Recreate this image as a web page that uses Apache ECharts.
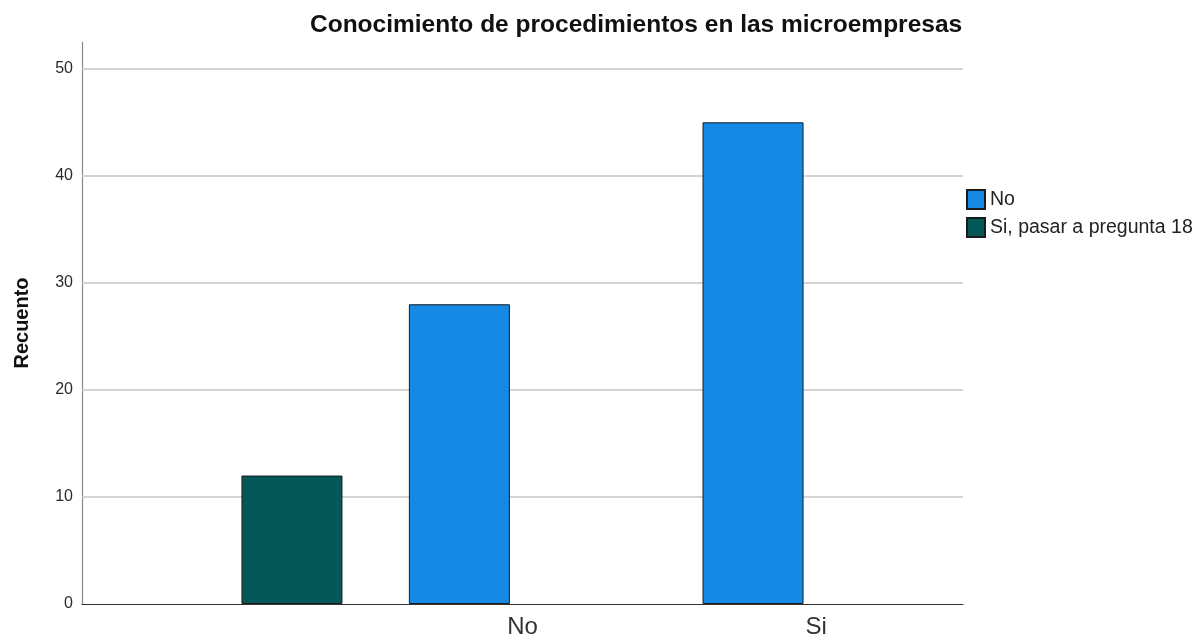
<!DOCTYPE html>
<html>
<head>
<meta charset="utf-8">
<script src="https://cdn.jsdelivr.net/npm/echarts@6/dist/echarts.min.js"></script>
<style>
  html, body { margin: 0; padding: 0; background: #ffffff; }
  #chart { width: 1201px; height: 639px; }
</style>
</head>
<body>
<div id="chart"></div>
<script>
// Categories of the answer (the first one has no label)
const categories = ['', 'No', 'Si'];
// Counts per cluster group
const noValues = [null, 28, 45];
const siValues = [12, null, null];
const seriesNames = ['No', 'Si, pasar a pregunta 18'];
// Value-axis gridlines
const gridValues = [10, 20, 30, 40, 50];

const FONT = '"Liberation Sans", Arial, sans-serif';

const chart = echarts.init(document.getElementById('chart'), null, { renderer: 'canvas' });

chart.setOption({
  backgroundColor: '#ffffff',
  animation: false,
  title: {
    text: 'Conocimiento de procedimientos en las microempresas',
    left: 305,
    top: 8,
    textStyle: { fontFamily: FONT, fontSize: 24.5, fontWeight: 'bold', color: '#111111' }
  },
  legend: {
    orient: 'vertical',
    left: 961,
    top: 184,
    itemWidth: 18,
    itemHeight: 19,
    itemGap: 7,
    icon: 'rect',
    textStyle: { fontFamily: FONT, fontSize: 19.5, color: '#222222' },
    data: seriesNames
  },
  grid: { left: 82, right: 238, top: 42, bottom: 35, containLabel: false },
  xAxis: {
    type: 'category',
    data: categories,
    axisLine: { lineStyle: { color: '#333333', width: 1.2 } },
    axisTick: { show: false },
    axisLabel: { fontFamily: FONT, fontSize: 24, color: '#333333', margin: 11 }
  },
  yAxis: {
    type: 'value',
    min: 0,
    max: 52.5,
    interval: 10,
    name: 'Recuento',
    nameLocation: 'middle',
    nameGap: 50,
    nameRotate: 90,
    nameTextStyle: { fontFamily: FONT, fontSize: 20, fontWeight: 'bold', color: '#111111' },
    axisLine: { show: true, lineStyle: { color: '#8a8a8a', width: 1.2 } },
    axisTick: { show: false },
    splitLine: { show: false },
    axisLabel: {
      fontFamily: FONT, fontSize: 16, color: '#2a2a2a', margin: 9,
      formatter: v => (v % 10 === 0 ? String(v) : '')
    }
  },
  series: [
    {
      name: seriesNames[0],
      type: 'bar',
      data: noValues,
      barWidth: 101,
      barGap: '25%',
      itemStyle: { color: '#1589e3', borderColor: '#1b1b1b', borderWidth: 1 },
      markLine: {
        silent: true,
        symbol: 'none',
        z: 1,
        label: { show: false },
        lineStyle: { color: '#c4c4c4', width: 1.5, type: 'solid' },
        data: gridValues.map(v => ({ yAxis: v }))
      },
      z: 3
    },
    {
      name: seriesNames[1],
      type: 'bar',
      data: siValues,
      barWidth: 101,
      barGap: '25%',
      itemStyle: { color: '#055858', borderColor: '#1b1b1b', borderWidth: 1 },
      z: 3
    }
  ]
});
</script>
</body>
</html>
